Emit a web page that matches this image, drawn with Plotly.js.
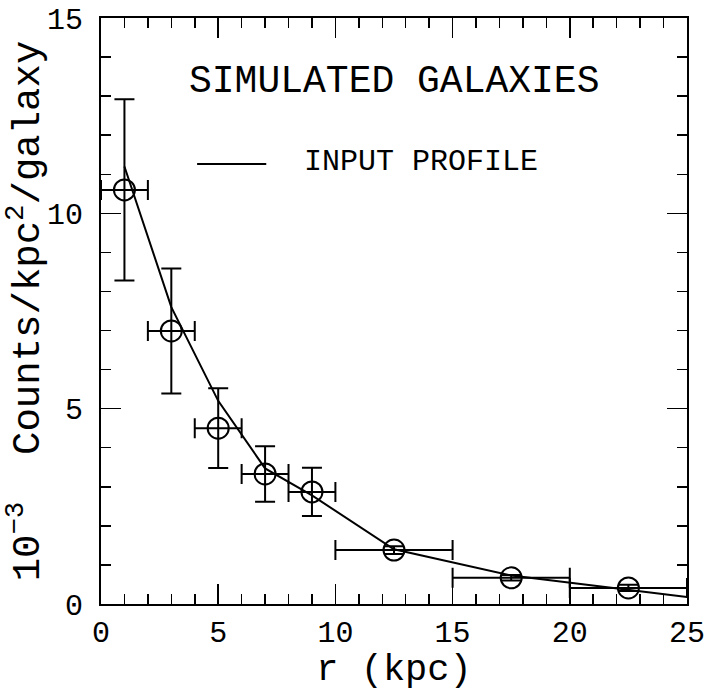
<!DOCTYPE html>
<html>
<head>
<meta charset="utf-8">
<script src="https://cdn.plot.ly/plotly-3.0.1.min.js"></script>
<style>html,body{margin:0;padding:0;background:#fff;}#chart{width:724px;height:691px;}</style>
</head>
<body>
<div id="chart"></div>
<script>
// Measured binned profile (simulated galaxies)
const binCenters = [1, 3, 5, 7, 9, 12.5, 17.5, 22.5];
const binHalfWidths = [1, 1, 1, 1, 1, 2.5, 2.5, 2.5];
const counts = [10.6, 6.99, 4.5, 3.33, 2.87, 1.38, 0.67, 0.41];
const countErrors = [2.32, 1.6, 1.02, 0.71, 0.62, 0.1, 0.07, 0.08];

// Input profile curve
const profileR = [1, 3, 5, 7, 9, 12.5, 17.5, 22.5, 25];
const profileCounts = [11.2, 7.6, 5.2, 3.47, 2.78, 1.40, 0.73, 0.37, 0.18];

const xTickVals = [0, 5, 10, 15, 20, 25];
const yTickVals = [0, 5, 10, 15];

const FONT = "Liberation Mono, DejaVu Sans Mono, monospace";

const traces = [
  {
    x: profileR, y: profileCounts, type: 'scatter', mode: 'lines',
    line: {color: '#000', width: 2}, name: 'INPUT PROFILE', showlegend: false
  },
  {
    x: binCenters, y: counts, type: 'scatter', mode: 'markers',
    marker: {symbol: 'circle-open', size: 21, color: '#000', line: {width: 2, color: '#000'}},
    error_x: {type: 'data', array: binHalfWidths, visible: true, color: '#000', thickness: 2, width: 10},
    error_y: {type: 'data', array: countErrors, visible: true, color: '#000', thickness: 2, width: 10},
    showlegend: false
  }
];

const layout = {
  width: 724, height: 691,
  margin: {l: 101, r: 37, t: 18, b: 87},
  paper_bgcolor: '#fff', plot_bgcolor: '#fff',
  font: {family: FONT, color: '#000'},
  showlegend: false,
  xaxis: {
    range: [0, 25], tickvals: xTickVals, ticktext: xTickVals.map(String),
    ticks: 'inside', ticklen: 20, tickwidth: 1.5, tickcolor: '#000',
    minor: {dtick: 1, ticks: 'inside', ticklen: 10, tickwidth: 1.5, tickcolor: '#000'},
    showline: true, linecolor: '#000', linewidth: 2, mirror: 'allticks',
    showgrid: false, zeroline: false,
    tickfont: {size: 30, family: FONT},
    title: {text: 'r (kpc)', font: {size: 37, family: FONT}, standoff: 2}
  },
  yaxis: {
    range: [0, 15], tickvals: yTickVals, ticktext: yTickVals.map(String),
    ticks: 'inside', ticklen: 20, tickwidth: 1.5, tickcolor: '#000',
    minor: {dtick: 1, ticks: 'inside', ticklen: 10, tickwidth: 1.5, tickcolor: '#000'},
    showline: true, linecolor: '#000', linewidth: 2, mirror: 'allticks',
    showgrid: false, zeroline: false,
    ticklabelstandoff: 10,
    tickfont: {size: 30, family: FONT},
    title: {text: '10<sup>−3</sup>  Counts/kpc<sup>2</sup>/galaxy', font: {size: 39, family: FONT}, standoff: 2}
  },
  shapes: [
    {type: 'line', xref: 'paper', yref: 'paper', x0: 0.164, x1: 0.282, y0: 0.751, y1: 0.751,
     line: {color: '#000', width: 2}}
  ],
  annotations: [
    {text: 'SIMULATED GALAXIES', xref: 'paper', yref: 'paper', x: 0.5, y: 0.891,
     xanchor: 'center', yanchor: 'middle', showarrow: false, font: {size: 38, family: FONT}},
    {text: 'INPUT PROFILE', xref: 'paper', yref: 'paper', x: 0.343, y: 0.754,
     xanchor: 'left', yanchor: 'middle', showarrow: false, font: {size: 30, family: FONT}}
  ]
};

Plotly.newPlot('chart', traces, layout, {staticPlot: true, displayModeBar: false});
</script>
</body>
</html>
